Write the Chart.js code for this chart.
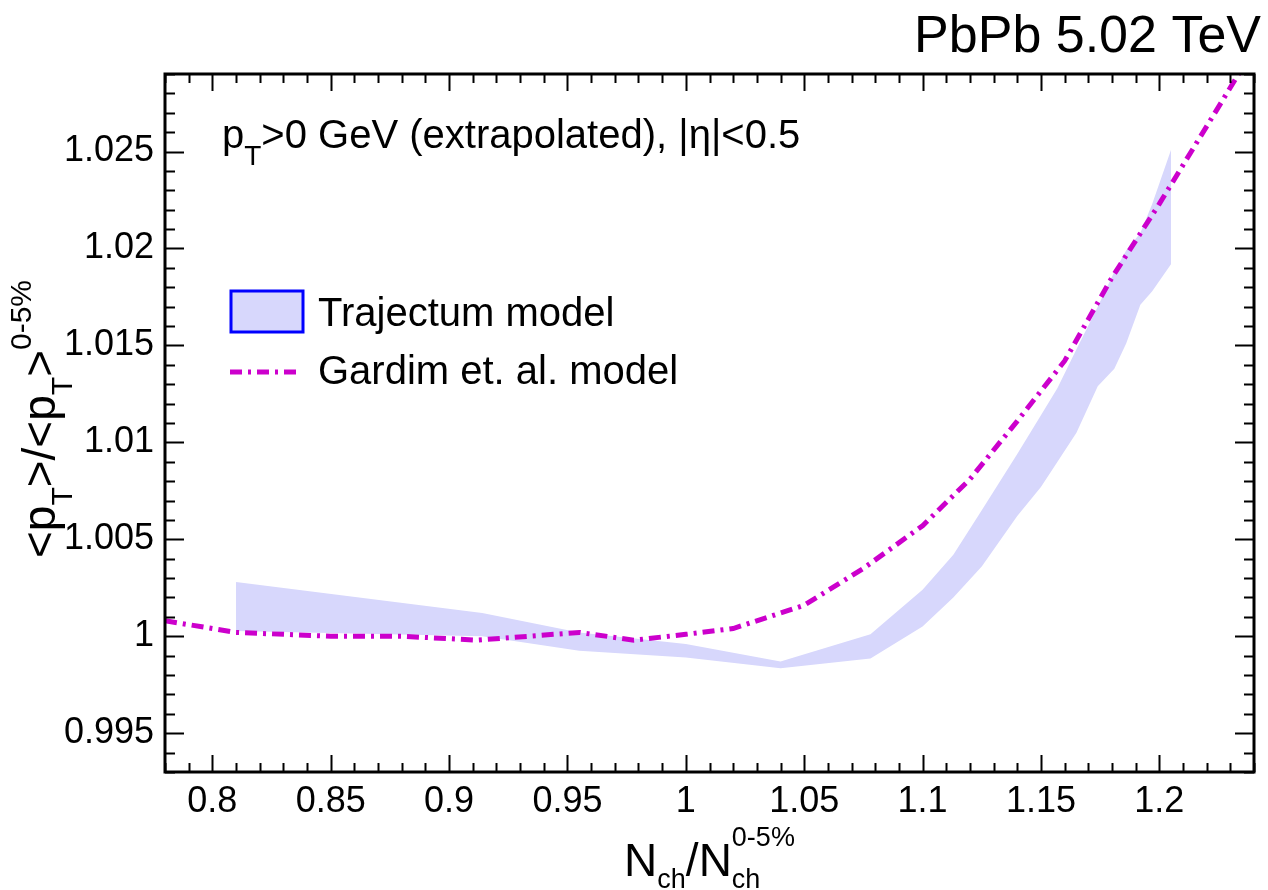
<!DOCTYPE html>
<html>
<head>
<meta charset="utf-8">
<title>mean pT ratio vs Nch</title>
<script src="https://cdn.jsdelivr.net/npm/chart.js@4.4.1/dist/chart.umd.min.js"></script>
<style>
  html, body { margin: 0; padding: 0; background: #fff; }
  #wrap { width: 1268px; height: 890px; }
</style>
</head>
<body>
<div id="wrap"><canvas id="ratioChart" width="1268" height="890"></canvas></div>
<script>
let xMin = 0.78;
let xMax = 1.24;
let yMin = 0.993;
let yMax = 1.029;

let xTicks = [0.8, 0.85, 0.9, 0.95, 1, 1.05, 1.1, 1.15, 1.2];
let xTickLabels = ["0.8", "0.85", "0.9", "0.95", "1", "1.05", "1.1", "1.15", "1.2"];
let yTicks = [0.995, 1, 1.005, 1.01, 1.015, 1.02, 1.025];
let yTickLabels = ["0.995", "1", "1.005", "1.01", "1.015", "1.02", "1.025"];

// Trajectum band: lower and upper edge
let trajX = [0.81, 0.914, 0.955, 1.0, 1.04, 1.078, 1.1, 1.113, 1.125, 1.14, 1.15, 1.157, 1.165, 1.174, 1.181, 1.186, 1.192, 1.197, 1.205];
let trajLow = [1.00027, 1.0000, 0.99925, 0.9989, 0.99835, 0.99885, 1.0005, 1.002, 1.0036, 1.0062, 1.0077, 1.009, 1.0105, 1.0129, 1.0138, 1.0151, 1.0171, 1.0178, 1.0192];
let trajHigh = [1.0028, 1.0012, 1.0002, 0.9996, 0.9987, 1.0001, 1.0024, 1.0042, 1.0065, 1.0094, 1.0114, 1.0128, 1.0148, 1.017, 1.0188, 1.0199, 1.0208, 1.0223, 1.0251];

// Gardim et al. curve
let gardimX = [0.78, 0.81, 0.85, 0.88, 0.912, 0.955, 0.978, 1.0, 1.02, 1.04, 1.05, 1.075, 1.1, 1.12, 1.14, 1.16, 1.18, 1.2, 1.22, 1.24];
let gardimY = [1.0008, 1.0002, 1.0, 1.0, 0.9998, 1.0002, 0.9998, 1.0001, 1.0004, 1.0012, 1.0016, 1.0035, 1.0057, 1.0081, 1.0111, 1.0142, 1.0185, 1.0223, 1.0263, 1.0303];

let FONT = '"Liberation Sans", Arial, Helvetica, sans-serif';
let bandColor = "rgb(215, 215, 252)";
let lineColor = "#cc00cc";
let lineDash = [12, 6, 3, 6];

function toPoints(xs, ys) {
  let pts = [];
  for (let i = 0; i < xs.length; i++) {
    pts.push({ x: xs[i], y: ys[i] });
  }
  return pts;
}

// draws text made of pieces with sub/superscripts; a piece with hold:true
// does not advance, so the next piece is stacked on top of it
function drawRich(ctx, parts, x, y, align) {
  let total = 0;
  let held = 0;
  for (let p of parts) {
    ctx.font = p.size + "px " + FONT;
    let w = ctx.measureText(p.t).width;
    if (p.hold) {
      held = w;
    } else {
      total += Math.max(w, held);
      held = 0;
    }
  }
  let pos = x;
  if (align === "center") pos = x - total / 2;
  if (align === "right") pos = x - total;

  held = 0;
  for (let p of parts) {
    ctx.font = p.size + "px " + FONT;
    let w = ctx.measureText(p.t).width;
    ctx.fillText(p.t, pos, y + (p.dy || 0));
    if (p.hold) {
      held = w;
    } else {
      pos += Math.max(w, held);
      held = 0;
    }
  }
}

let frameAndTicks = {
  id: "frameAndTicks",
  afterDatasetsDraw(chart) {
    let ctx = chart.ctx;
    let a = chart.chartArea;
    let sx = chart.scales.x;
    let sy = chart.scales.y;

    ctx.save();
    ctx.strokeStyle = "#000";
    ctx.lineWidth = 2;
    ctx.beginPath();
    for (let k = Math.round(xMin * 100); k <= Math.round(xMax * 100); k++) {
      let px = Math.round(sx.getPixelForValue(k / 100)) + 0.5;
      let len = k % 5 === 0 ? 17 : 9;
      ctx.moveTo(px, a.bottom);
      ctx.lineTo(px, a.bottom - len);
      ctx.moveTo(px, a.top);
      ctx.lineTo(px, a.top + len);
    }
    for (let k = Math.round(yMin * 1000); k <= Math.round(yMax * 1000); k++) {
      let py = Math.round(sy.getPixelForValue(k / 1000)) + 0.5;
      let len = k % 5 === 0 ? 19 : 10;
      ctx.moveTo(a.left, py);
      ctx.lineTo(a.left + len, py);
      ctx.moveTo(a.right, py);
      ctx.lineTo(a.right - len, py);
    }
    ctx.stroke();

    ctx.lineWidth = 3;
    ctx.strokeRect(a.left, a.top, a.right - a.left, a.bottom - a.top);
    ctx.restore();
  },
};

let annotations = {
  id: "annotations",
  afterDraw(chart) {
    let ctx = chart.ctx;
    let a = chart.chartArea;
    ctx.save();
    ctx.fillStyle = "#000";
    ctx.textBaseline = "alphabetic";

    ctx.font = "52px " + FONT;
    ctx.textAlign = "right";
    ctx.fillText("PbPb 5.02 TeV", 1261, 52);
    ctx.textAlign = "left";

    drawRich(ctx, [
      { t: "p", size: 40 },
      { t: "T", size: 28, dy: 17 },
      { t: ">0 GeV (extrapolated), |η|<0.5", size: 40 },
    ], 222, 148, "left");

    // legend
    ctx.fillStyle = bandColor;
    ctx.fillRect(231, 291, 72, 41);
    ctx.strokeStyle = "#0000ff";
    ctx.lineWidth = 3;
    ctx.strokeRect(231, 291, 72, 41);

    ctx.strokeStyle = lineColor;
    ctx.lineWidth = 5;
    ctx.setLineDash(lineDash);
    ctx.beginPath();
    ctx.moveTo(230, 372);
    ctx.lineTo(300, 372);
    ctx.stroke();
    ctx.setLineDash([]);

    ctx.fillStyle = "#000";
    ctx.font = "40px " + FONT;
    ctx.fillText("Trajectum model", 318, 326);
    ctx.fillText("Gardim et. al. model", 318, 384);

    // x axis title
    drawRich(ctx, [
      { t: "N", size: 46 },
      { t: "ch", size: 27, dy: 12 },
      { t: "/N", size: 46 },
      { t: "ch", size: 27, dy: 12, hold: true },
      { t: "0-5%", size: 27, dy: -30 },
    ], (a.left + a.right) / 2, 876, "center");

    // y axis title, rotated
    ctx.translate(55, 419);
    ctx.rotate(-Math.PI / 2);
    drawRich(ctx, [
      { t: "<p", size: 46 },
      { t: "T", size: 30, dy: 17 },
      { t: ">/<p", size: 46 },
      { t: "T", size: 30, dy: 17 },
      { t: ">", size: 46 },
      { t: "0-5%", size: 30, dy: -24 },
    ], 0, 0, "center");
    ctx.restore();
  },
};

let ctx = document.getElementById("ratioChart").getContext("2d");

let chart = new Chart(ctx, {
  type: "line",
  data: {
    datasets: [
      {
        label: "Gardim et. al. model",
        data: toPoints(gardimX, gardimY),
        borderColor: lineColor,
        borderWidth: 5,
        borderDash: lineDash,
        borderCapStyle: "butt",
        pointRadius: 0,
        tension: 0,
        fill: false,
        order: 0,
      },
      {
        label: "Trajectum low",
        data: toPoints(trajX, trajLow),
        borderColor: "rgba(0,0,0,0)",
        borderWidth: 0,
        pointRadius: 0,
        tension: 0,
        fill: false,
        order: 2,
      },
      {
        label: "Trajectum model",
        data: toPoints(trajX, trajHigh),
        borderColor: "rgba(0,0,0,0)",
        backgroundColor: bandColor,
        borderWidth: 0,
        pointRadius: 0,
        tension: 0,
        fill: "-1",
        order: 1,
      },
    ],
  },
  options: {
    responsive: false,
    animation: false,
    layout: {
      padding: { top: 74, right: 14, left: 0, bottom: 0 },
    },
    plugins: {
      legend: { display: false },
      tooltip: { enabled: false },
    },
    scales: {
      x: {
        type: "linear",
        min: xMin,
        max: xMax,
        grid: { display: false, drawTicks: false },
        border: { display: false },
        afterBuildTicks: (scale) => {
          scale.ticks = xTicks.map((v) => ({ value: v }));
        },
        afterFit: (scale) => {
          scale.height = 118;
        },
        ticks: {
          color: "#000",
          padding: 8,
          maxRotation: 0,
          autoSkip: false,
          font: { family: FONT, size: 36 },
          callback: (value) => xTickLabels[xTicks.indexOf(value)],
        },
      },
      y: {
        type: "linear",
        min: yMin,
        max: yMax,
        grid: { display: false, drawTicks: false },
        border: { display: false },
        afterBuildTicks: (scale) => {
          scale.ticks = yTicks.map((v) => ({ value: v }));
        },
        afterFit: (scale) => {
          scale.width = 165;
        },
        ticks: {
          color: "#000",
          padding: 11,
          autoSkip: false,
          font: { family: FONT, size: 36 },
          callback: (value) => yTickLabels[yTicks.indexOf(value)],
        },
      },
    },
  },
  plugins: [frameAndTicks, annotations],
});
</script>
</body>
</html>
